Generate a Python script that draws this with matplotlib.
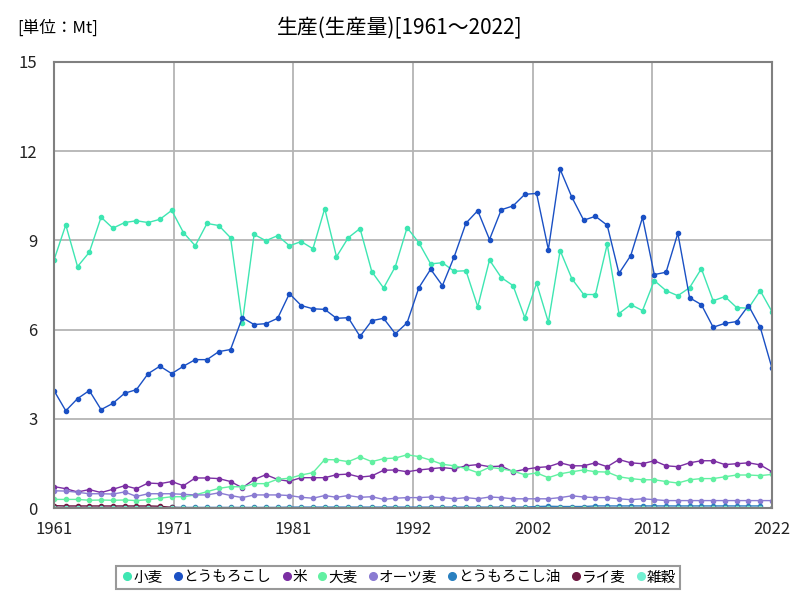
import matplotlib
matplotlib.use("Agg")
import matplotlib.pyplot as plt
from matplotlib.lines import Line2D
import numpy as np

plt.rcParams['font.family'] = ['Noto Sans CJK JP', 'DejaVu Sans']

years = list(range(1961, 2023))
xtick_labels = ['1961', '1971', '1981', '1992', '2002', '2012', '2022']

wheat = [8.34, 9.52, 8.12, 8.60, 9.78, 9.41, 9.60, 9.66, 9.60, 9.71,
         10.01, 9.26, 8.82, 9.57, 9.50, 9.09, 6.23, 9.20, 8.99, 9.16,
         8.82, 8.96, 8.72, 10.07, 8.45, 9.09, 9.40, 7.95, 7.40, 8.12,
         9.43, 8.92, 8.21, 8.25, 7.96, 7.98, 6.77, 8.34, 7.75, 7.48,
         6.40, 7.56, 6.25, 8.66, 7.71, 7.18, 7.18, 8.87, 6.54, 6.84,
         6.64, 7.65, 7.31, 7.14, 7.41, 8.05, 6.97, 7.11, 6.74, 6.72,
         7.31, 6.60]
corn = [3.95, 3.27, 3.68, 3.95, 3.31, 3.52, 3.86, 3.98, 4.52, 4.77,
        4.52, 4.77, 4.99, 4.99, 5.26, 5.33, 6.40, 6.17, 6.20, 6.38,
        7.21, 6.81, 6.70, 6.68, 6.38, 6.40, 5.77, 6.30, 6.38, 5.86,
        6.23, 7.41, 8.03, 7.48, 8.45, 9.58, 10.00, 9.03, 10.03, 10.16,
        10.55, 10.58, 8.69, 11.39, 10.45, 9.68, 9.81, 9.51, 7.89, 8.49,
        9.77, 7.85, 7.93, 9.24, 7.07, 6.84, 6.08, 6.21, 6.27, 6.81,
        6.08, 4.70]
rice = [0.72, 0.65, 0.54, 0.62, 0.52, 0.63, 0.75, 0.65, 0.84, 0.82,
        0.89, 0.75, 1.01, 1.01, 0.99, 0.89, 0.68, 0.96, 1.12, 0.96,
        0.90, 1.02, 1.02, 1.02, 1.12, 1.14, 1.04, 1.08, 1.27, 1.28,
        1.22, 1.28, 1.32, 1.36, 1.32, 1.42, 1.46, 1.39, 1.41, 1.22,
        1.30, 1.36, 1.39, 1.52, 1.42, 1.42, 1.52, 1.39, 1.63, 1.52,
        1.49, 1.59, 1.42, 1.39, 1.52, 1.59, 1.59, 1.46, 1.49, 1.52,
        1.45, 1.22]
barley = [0.29, 0.29, 0.29, 0.26, 0.27, 0.26, 0.27, 0.25, 0.28, 0.33,
          0.38, 0.38, 0.44, 0.55, 0.66, 0.72, 0.71, 0.82, 0.82, 0.97,
          1.00, 1.11, 1.19, 1.63, 1.62, 1.56, 1.72, 1.56, 1.66, 1.68,
          1.79, 1.73, 1.61, 1.47, 1.42, 1.33, 1.19, 1.37, 1.32, 1.24,
          1.12, 1.18, 1.02, 1.15, 1.22, 1.28, 1.22, 1.21, 1.05, 0.99,
          0.95, 0.95, 0.89, 0.84, 0.95, 0.99, 0.99, 1.05, 1.11, 1.11,
          1.09, 1.13]
oats = [0.58, 0.57, 0.53, 0.48, 0.48, 0.47, 0.54, 0.39, 0.48, 0.48,
        0.48, 0.46, 0.44, 0.44, 0.51, 0.42, 0.35, 0.44, 0.44, 0.44,
        0.42, 0.36, 0.33, 0.42, 0.36, 0.42, 0.36, 0.38, 0.29, 0.33,
        0.35, 0.35, 0.37, 0.35, 0.31, 0.35, 0.31, 0.37, 0.35, 0.31,
        0.31, 0.31, 0.31, 0.35, 0.41, 0.37, 0.35, 0.35, 0.31, 0.28,
        0.31, 0.28, 0.25, 0.25, 0.25, 0.25, 0.25, 0.25, 0.25, 0.25,
        0.25, 0.25]
corn_oil = [0.02, 0.02, 0.02, 0.02, 0.02, 0.02, 0.02, 0.02, 0.02, 0.02,
            0.02, 0.02, 0.02, 0.02, 0.02, 0.02, 0.02, 0.02, 0.02, 0.02,
            0.03, 0.03, 0.03, 0.03, 0.03, 0.03, 0.03, 0.03, 0.03, 0.03,
            0.03, 0.03, 0.03, 0.03, 0.03, 0.03, 0.03, 0.03, 0.03, 0.03,
            0.03, 0.05, 0.06, 0.05, 0.05, 0.05, 0.07, 0.07, 0.07, 0.07,
            0.07, 0.07, 0.07, 0.07, 0.07, 0.07, 0.07, 0.07, 0.07, 0.07,
            0.07, np.nan]
rye = [0.08, 0.07, 0.07, 0.07, 0.07, 0.07, 0.07, 0.07, 0.07, 0.06,
       0.02, 0.01, 0.01, 0.01, 0.01, 0.01, 0.01, 0.01, 0.01, 0.01,
       0.01, 0.01, 0.01, 0.01, 0.01, 0.01, 0.01, 0.01, 0.01, 0.01,
       0.01, 0.01, 0.01, 0.01, 0.01, 0.01, 0.01, 0.01, 0.01, 0.01,
       0.01, 0.01, 0.01, 0.01, 0.01, 0.01, 0.01, 0.01, 0.01, 0.01,
       0.01, 0.01, 0.01, 0.01, 0.01, 0.01, 0.01, 0.01, 0.01, 0.01,
       0.01, 0.01]
misc = [0.01] * 62

series_names = ['小麦', 'とうもろこし', '米', '大麦', 'オーツ麦', 'とうもろこし油', 'ライ麦', '雑穀']
series_values = [wheat, corn, rice, barley, oats, corn_oil, rye, misc]
colors = ['#3ee6b2', '#1a50c4', '#7b2fa3', '#62f0a2', '#8a7bd2', '#2a80c0', '#6e1a42', '#72f0d2']

fig = plt.figure(figsize=(8, 6), dpi=100)
ax = fig.add_axes([0.0675, 0.1533, 0.8975, 0.7434])

for name, vals, c in zip(series_names, series_values, colors):
    ax.plot(years, vals, color=c, lw=1.0, marker='o', ms=3.0, label=name)

ax.set_xlim(1961, 2022)
ax.set_ylim(0, 15)
ax.set_yticks([0, 3, 6, 9, 12, 15])
ax.set_xticks(np.linspace(1961, 2022, 7))
ax.set_xticklabels(xtick_labels)
ax.tick_params(axis='x', length=0, labelsize=12, colors='#222222', pad=9)
ax.tick_params(axis='y', length=0, labelsize=12, colors='#222222', pad=12)
ax.grid(True, color='#b4b4b4', lw=1.3)
ax.set_axisbelow(True)
for s in ax.spines.values():
    s.set_color('#808080')
    s.set_linewidth(1.5)

fig.text(0.5, 0.953, '生産(生産量)[1961～2022]', ha='center', va='center', fontsize=15)
fig.text(0.022, 0.953, '[単位：Mt]', ha='left', va='center', fontsize=12)

handles = [Line2D([], [], ls='none', marker='o', ms=5.5, color=c) for c in colors]
leg = fig.legend(handles, series_names, loc='center', bbox_to_anchor=(0.4975, 0.0375),
                 ncol=8, fontsize=10.5, frameon=True, handletextpad=-0.1,
                 columnspacing=0.55, handlelength=1.0, borderpad=0.3, fancybox=False)
leg.get_frame().set_edgecolor('#808080')
leg.get_frame().set_linewidth(1.5)

fig.savefig('out.png', dpi=100)
